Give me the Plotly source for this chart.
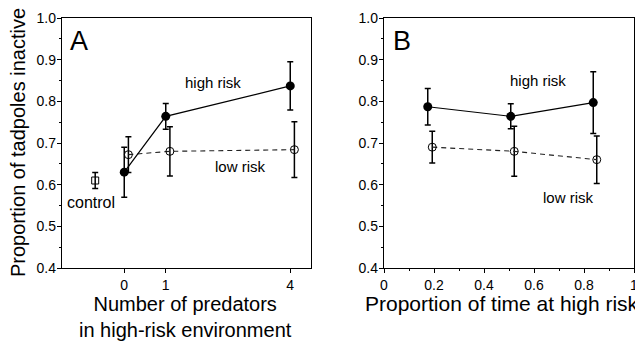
import plotly.graph_objects as go

# ---- Panel A data ----
a_high_x = [0, 1, 4]
a_high_y = [0.630, 0.764, 0.837]
a_high_err = [0.060, 0.031, 0.058]

a_low_x = [0.1, 1.1, 4.1]
a_low_y = [0.672, 0.680, 0.684]
a_low_err = [0.043, 0.059, 0.067]

ctrl_x = [-0.7]
ctrl_y = [0.610]
ctrl_err = [0.019]

a_tickvals = [0, 1, 4]
a_ticktext = ["0", "1", "4"]

# ---- Panel B data ----
b_high_x = [0.175, 0.507, 0.837]
b_high_y = [0.787, 0.764, 0.797]
b_high_err = [0.044, 0.030, 0.074]

b_low_x = [0.193, 0.521, 0.851]
b_low_y = [0.690, 0.680, 0.660]
b_low_err = [0.038, 0.060, 0.057]

b_tickvals = [0, 0.2, 0.4, 0.6, 0.8, 1]
b_ticktext = ["0", "0.2", "0.4", "0.6", "0.8", "1"]

FONT = "Arial, Liberation Sans, Helvetica, sans-serif"
BLACK = "black"

# page is drawn with the browser's default 8px body margin
PAGE_OFF = 8
L, R, T, B = 62 - PAGE_OFF, 9, 18 - PAGE_OFF, 79
W, H = 643 - PAGE_OFF, 347 - PAGE_OFF
PW, PH = W - L - R, H - T - B


def px(p):
    """page pixel x -> paper x"""
    return (p - PAGE_OFF - L) / PW


def py(p):
    """page pixel y -> paper y"""
    return (H - B - (p - PAGE_OFF)) / PH


fig = go.Figure()


def err(arr):
    return dict(type="data", array=arr, visible=True, color=BLACK, thickness=1.5, width=3)


# Panel A
fig.add_trace(go.Scatter(x=a_low_x, y=a_low_y, error_y=err(a_low_err), mode="lines+markers",
                         line=dict(color="#222", width=1.1, dash="5px,4px"),
                         marker=dict(symbol="circle-open", size=8, color=BLACK, line=dict(width=1)),
                         xaxis="x", yaxis="y", showlegend=False))
fig.add_trace(go.Scatter(x=a_high_x, y=a_high_y, error_y=err(a_high_err), mode="lines+markers",
                         line=dict(color=BLACK, width=1.2),
                         marker=dict(symbol="circle", size=9, color=BLACK),
                         xaxis="x", yaxis="y", showlegend=False))
fig.add_trace(go.Scatter(x=ctrl_x, y=ctrl_y, error_y=err(ctrl_err), mode="markers",
                         marker=dict(symbol="square-open", size=7, color=BLACK, line=dict(width=1)),
                         xaxis="x", yaxis="y", showlegend=False))

# Panel B
fig.add_trace(go.Scatter(x=b_low_x, y=b_low_y, error_y=err(b_low_err), mode="lines+markers",
                         line=dict(color="#222", width=1.1, dash="5px,4px"),
                         marker=dict(symbol="circle-open", size=8, color=BLACK, line=dict(width=1)),
                         xaxis="x2", yaxis="y2", showlegend=False))
fig.add_trace(go.Scatter(x=b_high_x, y=b_high_y, error_y=err(b_high_err), mode="lines+markers",
                         line=dict(color=BLACK, width=1.2),
                         marker=dict(symbol="circle", size=9, color=BLACK),
                         xaxis="x2", yaxis="y2", showlegend=False))

axis_common = dict(showline=True, linecolor=BLACK, linewidth=1.3, mirror=True, automargin=False,
                   showgrid=False, zeroline=False, ticks="outside", ticklen=4,
                   tickcolor=BLACK, tickwidth=1, tickfont=dict(family=FONT, size=14, color=BLACK))

yax = dict(axis_common, range=[0.4, 1.0], dtick=0.1, tickformat=".1f", ticklabelstandoff=-2,
           minor=dict(dtick=0.05, ticks="outside", ticklen=2, tickcolor=BLACK))

fig.update_layout(
    template="none",
    width=W, height=H,
    margin=dict(l=L, r=R, t=T, b=B, pad=0),
    paper_bgcolor="white", plot_bgcolor="white",
    font=dict(family=FONT, color=BLACK),
    xaxis=dict(axis_common, domain=[px(62), px(311)], range=[-1.5, 4.5],
               tickvals=a_tickvals, ticktext=a_ticktext),
    yaxis=dict(yax),
    xaxis2=dict(axis_common, domain=[px(384), px(634)], range=[0, 1],
                tickvals=b_tickvals, ticktext=b_ticktext,
                minor=dict(dtick=0.1, ticks="outside", ticklen=2, tickcolor=BLACK),
                anchor="y2"),
    yaxis2=dict(yax, anchor="x2"),
)

title_font = dict(family=FONT, size=20, color=BLACK)
ann_font = dict(family=FONT, size=15, color=BLACK)
annotations = [
    dict(text="A", x=-1.09, y=0.946, xref="x", yref="y", font=dict(family=FONT, size=27, color=BLACK)),
    dict(text="high risk", x=2.13, y=0.845, xref="x", yref="y", font=ann_font),
    dict(text="low risk", x=2.8, y=0.643, xref="x", yref="y", font=ann_font),
    dict(text="control", x=-0.8, y=0.557, xref="x", yref="y", font=dict(family=FONT, size=16, color=BLACK)),
    dict(text="B", x=0.072, y=0.946, xref="x2", yref="y2", font=dict(family=FONT, size=27, color=BLACK)),
    dict(text="high risk", x=0.616, y=0.850, xref="x2", yref="y2", font=ann_font),
    dict(text="low risk", x=0.736, y=0.569, xref="x2", yref="y2", font=ann_font),
    # axis titles
    dict(text="Proportion of tadpoles inactive", x=px(18), y=py(143), xref="paper", yref="paper",
         textangle=-90, xanchor="center", yanchor="middle", font=title_font),
    dict(text="Number of predators<br>in high-risk environment", x=px(185), y=py(291),
         xref="paper", yref="paper", xanchor="center", yanchor="top", font=title_font),
    dict(text="Proportion of time at high risk", x=px(363), y=py(290), xref="paper", yref="paper",
         xanchor="left", yanchor="top", font=dict(family=FONT, size=21, color=BLACK)),
]
for a in annotations:
    a.setdefault("showarrow", False)
    fig.add_annotation(**a)

fig.write_html("out.html")
